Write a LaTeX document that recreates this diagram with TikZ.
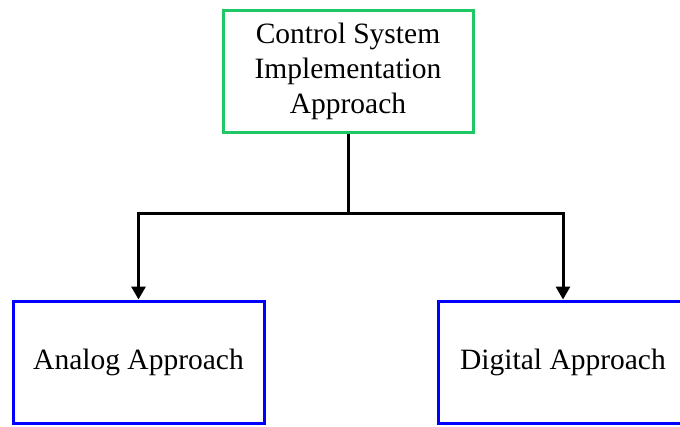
\documentclass[tikz,border=0pt]{standalone}
\usepackage{fontspec}
\setmainfont{Liberation Serif}
\usetikzlibrary{arrows.meta}
\definecolor{boxgreen}{RGB}{30,200,100}
\definecolor{boxblue}{RGB}{0,0,255}
\begin{document}
\begin{tikzpicture}[x=1pt,y=-1pt,
  box/.style={draw, line width=3pt, fill=white, align=center,
    font=\fontsize{29.5}{35}\selectfont, inner sep=0pt},
  rootbox/.style={box, draw=boxgreen, minimum width=250pt, minimum height=122pt},
  leafbox/.style={box, draw=boxblue, minimum width=251pt, minimum height=122pt},
  link/.style={line width=3pt, draw=black},
  arrowlink/.style={link, -{Triangle[length=13pt,width=14pt]}}]
  \useasboundingbox (0,0) rectangle (680,426);

  \node[rootbox] (root) at (348,71) {Control System\\Implementation\\Approach};
  \node[leafbox] (analog) at (138.5,362) {Analog Approach};
  \node[leafbox, minimum width=250pt] (digital) at (563,362) {Digital Approach};

  \coordinate (split) at (348,213);
  \draw[link] (root.south) -- (split);
  \draw[arrowlink] (split) -| (analog.north);
  \draw[arrowlink] (split) -| (digital.north);
\end{tikzpicture}
\end{document}
